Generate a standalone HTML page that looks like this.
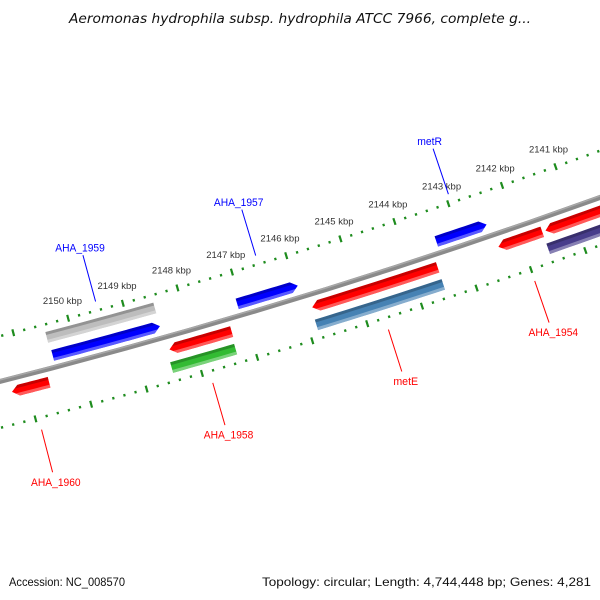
<!DOCTYPE html>
<html><head><meta charset="utf-8"><style>
html,body{margin:0;padding:0;background:#fff;}
svg{display:block;font-family:"Liberation Sans",sans-serif;}
</style></head><body>
<svg id="map" width="600" height="600" viewBox="0 0 600 600" xmlns="http://www.w3.org/2000/svg">
<rect width="600" height="600" fill="#fff"/>
<text x="300" y="23" text-anchor="middle" font-size="13.5" font-style="italic" fill="#111" textLength="462" lengthAdjust="spacingAndGlyphs" style="font-family:'DejaVu Sans','Liberation Sans',sans-serif">Aeromonas hydrophila subsp. hydrophila ATCC 7966, complete g...</text>
<g id="plot"></g>
<text x="9" y="586" font-size="12" fill="#111" textLength="116" lengthAdjust="spacingAndGlyphs">Accession: NC_008570</text>
<text x="262" y="586" font-size="12" fill="#111" textLength="329" lengthAdjust="spacingAndGlyphs">Topology: circular; Length: 4,744,448 bp; Genes: 4,281</text>
</svg>
<script>
// gene data (kbp)
const geneNames  = ["AHA_1960","AHA_1959","AHA_1958","AHA_1957","metE","metR","AHA_1954","AHA_1953"];
const geneStarts = [2150.61, 2148.48, 2147.30, 2145.96, 2143.53, 2142.48, 2141.60, 2139.5];
const geneEnds   = [2151.28, 2150.43, 2148.43, 2147.07, 2145.83, 2143.41, 2142.41, 2141.54];
const geneStrand = [-1, 1, -1, 1, -1, 1, -1, -1];
const geneLabeled= [true, true, true, true, true, true, true, false];
// secondary hit features (kbp)
const hitStarts = [2148.48, 2147.32, 2143.53, 2139.5];
const hitEnds   = [2150.45, 2148.48, 2145.85, 2141.60];
const hitRing   = ["upper", "lower", "lower", "lower"];
const hitColors = ["#bdbdbd", "#33bb33", "#4682b4", "#483d8b"];
// ruler
const tickLabels = [2141, 2142, 2143, 2144, 2145, 2146, 2147, 2148, 2149, 2150];
const rulerMin = 2138, rulerMax = 2153;

const NS = "http://www.w3.org/2000/svg";
const plot = document.getElementById("plot");
const CX = -1587, CY = -5863;
const R0 = 6443;
function ang(k){ return (75.01 + (k - 2150) * 0.508) * Math.PI / 180; }
function P(k, r){ const a = ang(k); return [CX + r * Math.cos(a), CY + r * Math.sin(a)]; }
function arcPts(k1, k2, r){ const pts = []; const n = 12; for (let i = 0; i <= n; i++){ pts.push(P(k1 + (k2 - k1) * i / n, r)); } return pts; }
function mk(tag, attrs){ const e = document.createElementNS(NS, tag); for (const k in attrs) e.setAttribute(k, attrs[k]); return e; }
function ptsStr(p){ return p.map(q => q[0].toFixed(2) + "," + q[1].toFixed(2)).join(" "); }

let clipId = 0;
function feature(k1, k2, rc, h, color, dir, name){
  const lo = Math.min(k1, k2), hi = Math.max(k1, k2);
  const head = 0.12;
  let pts;
  const rin = rc - h / 2, rout = rc + h / 2;
  if (dir === 1){
    const b = Math.min(hi, lo + head);
    pts = arcPts(hi, b, rin).concat([P(lo, rc)]).concat(arcPts(b, hi, rout));
  } else if (dir === -1){
    const b = Math.max(lo, hi - head);
    pts = arcPts(lo, b, rin).concat([P(hi, rc)]).concat(arcPts(b, lo, rout));
  } else {
    pts = arcPts(lo, hi, rin).concat(arcPts(hi, lo, rout));
  }
  const g = mk("g", {});
  
  
  const id = "c" + (clipId++);
  const cp = mk("clipPath", {id: id});
  cp.appendChild(mk("polygon", {points: ptsStr(pts)}));
  g.appendChild(cp);
  g.appendChild(mk("polygon", {points: ptsStr(pts), fill: color}));
  const top = arcPts(lo - 0.2, hi + 0.2, rin).concat(arcPts(hi + 0.2, lo - 0.2, rin + 3));
  g.appendChild(mk("polygon", {points: ptsStr(top), fill: "rgba(0,0,0,0.22)", "clip-path": "url(#" + id + ")"}));
  const bot = arcPts(lo - 0.2, hi + 0.2, rout - 3).concat(arcPts(hi + 0.2, lo - 0.2, rout));
  g.appendChild(mk("polygon", {points: ptsStr(bot), fill: "rgba(255,255,255,0.35)", "clip-path": "url(#" + id + ")"}));
  plot.appendChild(g);
}

// backbone
const bb = mk("polyline", {points: ptsStr(arcPts(rulerMin, rulerMax, R0)), fill: "none", stroke: "#8a8a8a", "stroke-width": 5});


plot.appendChild(bb);
const bb2 = mk("polyline", {points: ptsStr(arcPts(rulerMin, rulerMax, R0 - 1.5)), fill: "none", stroke: "#a8a8a8", "stroke-width": 1.5});


plot.appendChild(bb2);

// rulers
const RU = 6399, RL = 6488;
function ruler(r, nm){
  const g = mk("g", {});
  
  
  for (let i = Math.round(rulerMin * 5); i <= Math.round(rulerMax * 5); i++){
    const k = i / 5;
    const major = i % 5 === 0;
    const len = major ? 7 : 2.5;
    const a = P(k, r - len / 2), b = P(k, r + len / 2);
    const t = mk("line", {x1: a[0], y1: a[1], x2: b[0], y2: b[1], stroke: "#1e8c1e", "stroke-width": 2.2});
    
    
    g.appendChild(t);
  }
  plot.appendChild(g);
}
ruler(RU, "upper-ruler");
ruler(RL, "lower-ruler");
tickLabels.forEach(k => {
  const p = P(k, RU - 18);
  const t = mk("text", {x: p[0] - 1, y: p[1] + 3, "text-anchor": "middle", "font-size": "9.5", fill: "#333"});
  
  
  t.textContent = k + " kbp";
  plot.appendChild(t);
});

// hit features
hitStarts.forEach((s, i) => {
  const rc = hitRing[i] === "upper" ? R0 - 31 : R0 + 31;
  feature(s, hitEnds[i], rc, 11, hitColors[i], 0, "hit-feature");
});
// genes
geneNames.forEach((n, i) => {
  const fwd = geneStrand[i] === 1;
  const rc = fwd ? R0 - 12 : R0 + 13;
  feature(geneStarts[i], geneEnds[i], rc, 11, fwd ? "#0000ff" : "#ff0000", fwd ? 1 : -1, "gene-" + n.toLowerCase());
  if (!geneLabeled[i]) return;
  const mid = (geneStarts[i] + geneEnds[i]) / 2;
  const col = fwd ? "#0000ff" : "#ff0000";
  const ra = fwd ? 6390 : 6500, rb = fwd ? 6342 : 6544, rt = fwd ? 6331 : 6557;
  const a = P(mid, ra), b = P(mid, rb), tp = P(mid, rt);
  const ln = mk("line", {x1: a[0], y1: a[1], x2: b[0], y2: b[1], stroke: col, "stroke-width": 1});
  
  
  plot.appendChild(ln);
  const t = mk("text", {x: tp[0], y: tp[1] + (fwd ? 7 : 1), "text-anchor": "middle", "font-size": "11", fill: col, textLength: (n.length * 6.2).toFixed(1), lengthAdjust: "spacingAndGlyphs"});
  
  
  t.textContent = n;
  plot.appendChild(t);
});
</script>
</body></html>
